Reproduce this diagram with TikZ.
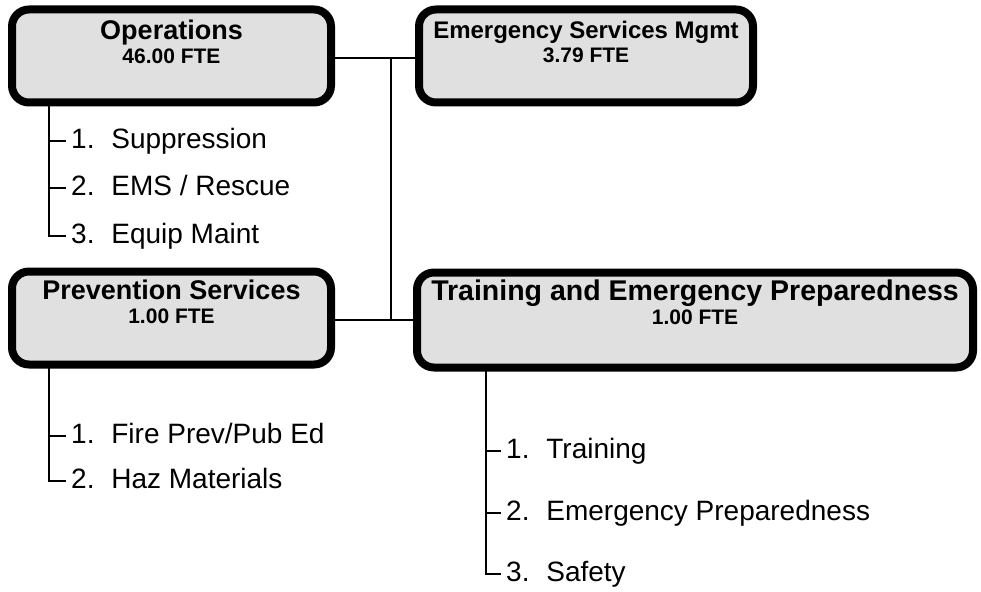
\documentclass[tikz,border=0pt]{standalone}
\usepackage{fontspec}
\setmainfont{Liberation Sans}
\usetikzlibrary{positioning}

\begin{document}
\begin{tikzpicture}[x=1pt, y=-1pt,
    unitbox/.style={draw=black, line width=8pt, rounded corners=17pt, fill=black!12,
        align=center, inner sep=0pt, minimum height=93pt},
    title/.style={font=\bfseries\fontsize{#1}{24}\selectfont},
    item/.style={anchor=west, inner xsep=5pt, inner ysep=0pt, text height=20pt, text depth=5pt,
        font=\fontsize{28}{30}\selectfont},
    link/.style={line width=2pt},
    stem/.style={line width=2.5pt}]
    \useasboundingbox (0,0) rectangle (981,591);

    % Division boxes (text sits in the upper part)
    \node[unitbox, title=27, minimum width=319pt] (ops) at (171.5,56)
        {Operations\\{\fontsize{21}{24}\selectfont 46.00 FTE}\\[5pt]\mbox{}};
    \node[unitbox, title=24, minimum width=334pt] (esm) at (586,56)
        {Emergency Services Mgmt\\{\fontsize{21}{24}\selectfont 3.79 FTE}\\[5pt]\mbox{}};
    \node[unitbox, title=27, minimum width=319pt] (prev) at (171.5,318)
        {Prevention Services\\{\fontsize{21}{24}\selectfont 1.00 FTE}\\[8pt]\mbox{}};
    \node[unitbox, title=28.5, minimum width=556pt, minimum height=95pt] (tep) at (695,320)
        {Training and Emergency Preparedness\\{\fontsize{21}{24}\selectfont 1.00 FTE}\\[12pt]\mbox{}};

    % Bus between the four boxes
    \coordinate (bustop) at (391,58);
    \coordinate (busbot) at (391,320);
    \draw[link] (ops.east |- bustop) -- (esm.west |- bustop);
    \draw[link] (prev.east |- busbot) -- (tep.west |- busbot);
    \draw[link] (bustop) -- (busbot);

    % Sub-lists
    \coordinate (opsroot) at (49,100);
    \coordinate (prevroot) at (49,362);
    \coordinate (teproot) at (486,366);
    \foreach \n/\y/\txt in {1/141/Suppression, 2/188/{EMS / Rescue}, 3/236/{Equip Maint}} {
        \node[item] (ops\n) at (66,\y) {\n.\hspace{0.6em}\txt};
        \draw[stem] (ops\n.west -| opsroot) -- (ops\n.west);
    }
    \draw[stem] (opsroot) |- (ops3.west);
    \foreach \n/\y/\txt in {1/436/{Fire Prev/Pub Ed}, 2/481/{Haz Materials}} {
        \node[item] (prev\n) at (66,\y) {\n.\hspace{0.6em}\txt};
        \draw[stem] (prev\n.west -| prevroot) -- (prev\n.west);
    }
    \draw[stem] (prevroot) |- (prev2.west);
    \foreach \n/\y/\txt in {1/451/Training, 2/513/{Emergency Preparedness}, 3/574/Safety} {
        \node[item] (tep\n) at (501,\y) {\n.\hspace{0.6em}\txt};
        \draw[stem] (tep\n.west -| teproot) -- (tep\n.west);
    }
    \draw[stem] (teproot) |- (tep3.west);
\end{tikzpicture}
\end{document}
